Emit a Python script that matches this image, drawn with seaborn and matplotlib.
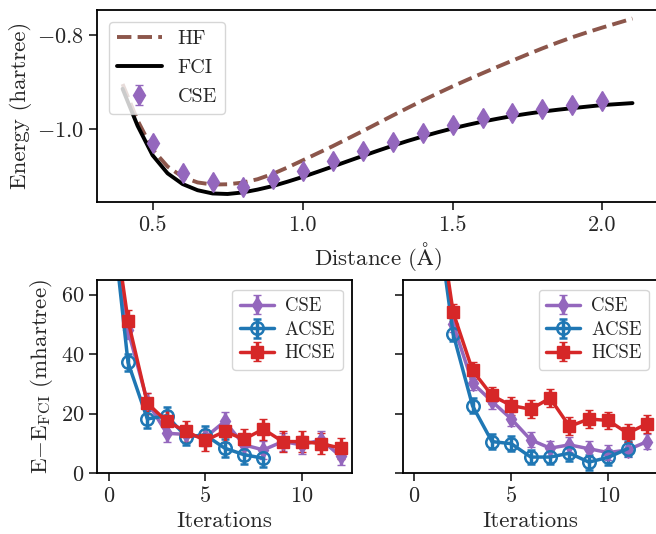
import numpy as np
import pandas as pd
import matplotlib
matplotlib.use("Agg")
import matplotlib.pyplot as plt
from matplotlib.ticker import MultipleLocator, FormatStrFormatter
import seaborn as sns

# dissociation curve (hartree)
dist = [0.40, 0.45, 0.50, 0.55, 0.60, 0.65, 0.70, 0.75, 0.80, 0.85, 0.90, 0.95,
        1.00, 1.05, 1.10, 1.15, 1.20, 1.25, 1.30, 1.35, 1.40, 1.45, 1.50, 1.55,
        1.60, 1.65, 1.70, 1.75, 1.80, 1.85, 1.90, 1.95, 2.00, 2.05, 2.10]
e_hf = [-0.9040, -0.9812, -1.0429, -1.0790, -1.1011, -1.1128, -1.1173, -1.1167,
        -1.1132, -1.1060, -1.0948, -1.0810, -1.0661, -1.0510, -1.0360, -1.0200,
        -1.0040, -0.9875, -0.9710, -0.9548, -0.9390, -0.9238, -0.9090, -0.8948,
        -0.8810, -0.8675, -0.8542, -0.8410, -0.8282, -0.8160, -0.8045, -0.7940,
        -0.7840, -0.7745, -0.7650]
e_fci = [-0.9141, -0.9926, -1.0551, -1.0935, -1.1162, -1.1293, -1.1362, -1.1373,
         -1.1341, -1.1280, -1.1206, -1.1112, -1.1012, -1.0903, -1.0792, -1.0679,
         -1.0567, -1.0457, -1.0350, -1.0248, -1.0154, -1.0065, -0.9982, -0.9907,
         -0.9837, -0.9776, -0.9718, -0.9669, -0.9624, -0.9586, -0.9551, -0.9518,
         -0.9486, -0.9465, -0.9444]
cse_dist = [0.5, 0.6, 0.7, 0.8, 0.9, 1.0, 1.1, 1.2, 1.3, 1.4, 1.5, 1.6, 1.7, 1.8, 1.9, 2.0]
cse_e = [-1.029, -1.092, -1.112, -1.123, -1.105, -1.088, -1.067, -1.047, -1.028,
         -1.007, -0.990, -0.977, -0.966, -0.956, -0.949, -0.940]
cse_err = [0.002] * len(cse_e)

# convergence, left panel (mhartree)
it_a = list(range(0, 13))
cse_a = [97, 48, 24, 13.4, 13, 12, 17.4, 9.5, 7.8, 10.6, 9.5, 11.2, 5.6]
cse_a_err = [3] * 13
it_acse_a = list(range(0, 9))
acse_a = [97, 37.2, 18.2, 19.3, 12.3, 12.8, 8.4, 6.2, 5.0]
acse_a_err = [3] * 9
hcse_a = [97, 51.3, 23.5, 17.4, 14.0, 11.0, 14.0, 11.4, 14.8, 10.6, 10.6, 9.9, 8.4]
hcse_a_err = [3.5] * 13

# convergence, right panel (mhartree)
it_b = list(range(1, 13))
cse_b = [97, 50, 30.3, 24.1, 18.2, 11.2, 8.4, 9.5, 8.2, 6.9, 7.8, 10.6]
cse_b_err = [2.5] * 12
it_acse_b = list(range(1, 12))
acse_b = [95, 46.8, 22.6, 10.6, 9.9, 5.4, 5.4, 6.7, 3.7, 5.3, 8.2]
acse_b_err = [2.5] * 11
hcse_b = [98, 54.0, 34.5, 26.1, 22.7, 21.5, 25.2, 15.7, 18.2, 17.7, 13.4, 16.6]
hcse_b_err = [3] * 12

sns.set_theme(style="ticks")
plt.rcParams["font.family"] = "serif"
plt.rcParams["font.serif"] = ["cmr10", "DejaVu Serif"]
plt.rcParams["mathtext.fontset"] = "cm"
plt.rcParams["axes.formatter.use_mathtext"] = True
plt.rcParams["axes.unicode_minus"] = True
plt.rcParams["font.size"] = 16
plt.rcParams["axes.labelsize"] = 16.5
plt.rcParams["xtick.labelsize"] = 16
plt.rcParams["ytick.labelsize"] = 16
plt.rcParams["legend.fontsize"] = 14.5
plt.rcParams["axes.edgecolor"] = "black"
plt.rcParams["axes.linewidth"] = 1.3

purple = "#9467bd"
blue = "#1f77b4"
red = "#d62728"
brown = "#8c564b"

fig = plt.figure(figsize=(6.56, 5.34), dpi=100)

# top panel
ax = fig.add_axes([0.148, 0.622, 0.855, 0.36])
sns.lineplot(x=dist, y=e_hf, ax=ax, color=brown, lw=2.8, ls="--", label="HF")
sns.lineplot(x=dist, y=e_fci, ax=ax, color="black", lw=2.8, label="FCI")
ax.errorbar(cse_dist, cse_e, yerr=cse_err, fmt="d", color=purple, ms=10,
            capsize=3, label="CSE")
ax.set_xlabel("Distance ($\\mathrm{\\AA}$)")
ax.set_ylabel("Energy (hartree)")
ax.yaxis.set_major_locator(MultipleLocator(0.2))
ax.yaxis.set_major_formatter(FormatStrFormatter("$%.1f$"))
ax.set_xticks([0.5, 1.0, 1.5, 2.0])
ax.set_xticklabels(["0.5", "1.0", "1.5", "2.0"])
ax.set_xlim(0.315, 2.185)
ax.set_ylim(-1.154, -0.746)
ax.legend(loc="upper left", framealpha=0.8, handlelength=2.2, labelspacing=0.55,
          borderaxespad=0.6)

# bottom panels
axes = [fig.add_axes([0.148, 0.114, 0.389, 0.361]),
        fig.add_axes([0.614, 0.114, 0.39, 0.361])]
panels = [
    (it_a, cse_a, cse_a_err, it_acse_a, acse_a, acse_a_err, it_a, hcse_a, hcse_a_err),
    (it_b, cse_b, cse_b_err, it_acse_b, acse_b, acse_b_err, it_b, hcse_b, hcse_b_err),
]
for axb, p in zip(axes, panels):
    axb.errorbar(p[0], p[1], yerr=p[2], color=purple, marker="d", ms=8, lw=2.5,
                 capsize=3, label="CSE")
    axb.errorbar(p[3], p[4], yerr=p[5], color=blue, marker="o", ms=9, mfc="none",
                 mew=1.8, lw=2.5, capsize=3, label="ACSE")
    axb.errorbar(p[6], p[7], yerr=p[8], color=red, marker="s", ms=9, lw=2.5,
                 capsize=3, label="HCSE")
    axb.set_xlim(-0.6, 12.6)
    axb.set_ylim(0, 64.8)
    axb.set_xticks([0, 5, 10])
    axb.set_yticks([0, 20, 40, 60])
    axb.set_xlabel("Iterations")
    axb.legend(loc="upper right", framealpha=0.8, fontsize=13.5, handlelength=1.8,
               labelspacing=0.3, borderpad=0.4, handletextpad=0.6)
axes[0].set_ylabel("E$-$E$_{\\rm FCI}$ (mhartree)")
axes[1].set_yticklabels([])

fig.savefig("out.png", dpi=100)
